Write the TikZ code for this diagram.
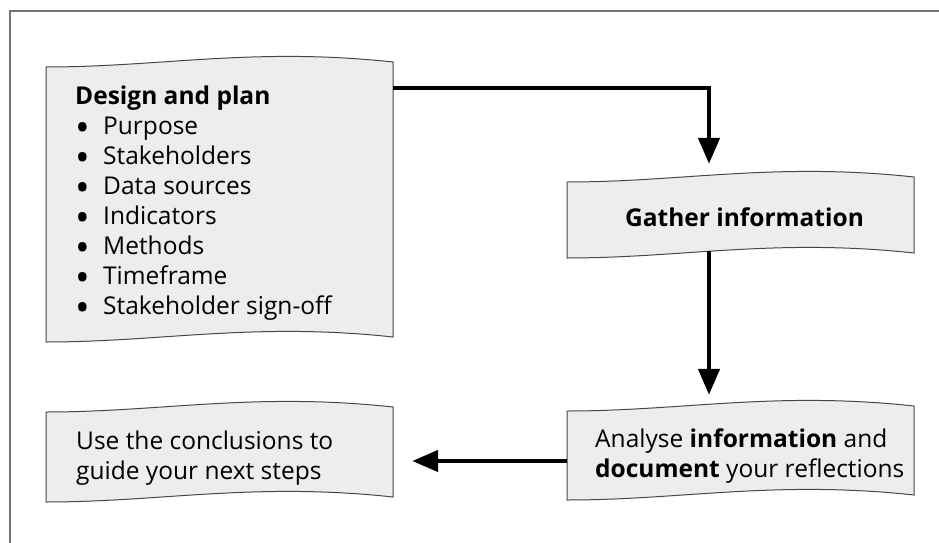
\documentclass[tikz,border=0pt]{standalone}
\usepackage{fontspec}
\setmainfont{Open Sans}
\usetikzlibrary{arrows.meta}
\newcommand\MyWave[3]{% x0, ytop, ybottom
  \path[wavebox] (#1,#2) .. controls ({#1+115},#2) and ({#1+208},{#2-20}) .. ({#1+347},{#2-5})
    -- ({#1+347},{#3-5}) .. controls ({#1+208},{#3-20}) and ({#1+115},#3) .. (#1,#3) -- cycle;}
\newcommand\MyBul{\makebox[28pt][l]{\raisebox{-7.5pt}[0pt][0pt]{\fontsize{39}{30}\selectfont •}}}
\begin{document}
\begin{tikzpicture}[x=1pt,y=-1pt,
  wavebox/.style={draw=black!72,fill=black!7,line width=1pt},
  area/.style={inner sep=0pt,minimum width=347pt},
  txt/.style={inner sep=0pt,font=\fontsize{24.5}{30}\selectfont},
  arr/.style={line width=4.5pt,line join=miter,-{Triangle[length=26pt,width=21pt]}},
  frame/.style={draw=black!55,line width=1.5pt}]
\useasboundingbox (0,0) rectangle (939,543);
\draw[frame] (10,543) -- (10,11) -- (939,11);
% boxes
\MyWave{46}{67}{342}
\MyWave{567}{182}{258}
\MyWave{567}{411}{500}
\MyWave{46}{412}{502}
\node[area,minimum height=275pt] (plan) at (219.5,204.5) {};
\node[area,minimum height=76pt] (gather) at (740.5,220) {};
\node[area,minimum height=89pt] (analyse) at (740.5,455.5) {};
\node[area,minimum height=90pt] (use) at (219.5,457) {};
% texts
\node[txt,anchor=base west] (plantext) at (75,104) {\begin{tabular}[t]{@{}l@{}}
\textbf{Design and plan}\\
\MyBul Purpose\\
\MyBul Stakeholders\\
\MyBul Data sources\\
\MyBul Indicators\\
\MyBul Methods\\
\MyBul Timeframe\\
\MyBul Stakeholder sign-off
\end{tabular}};
\node[txt,anchor=base] (gathertext) at (744.5,226) {\textbf{Gather information}};
\node[txt,anchor=base west] (analysetext) at (595,447) {\begin{tabular}[t]{@{}l@{}}
Analyse \textbf{information} and\\
\textbf{document} your reflections
\end{tabular}};
\node[txt,anchor=base west] (usetext) at (76,449) {\begin{tabular}[t]{@{}l@{}}
Use the conclusions to\\
guide your next steps
\end{tabular}};
% connectors
\draw[arr] ([yshift=-21pt]plan.north east) -| ([xshift=-31.5pt,yshift=18pt]gather.north);
\draw[arr] ([xshift=-31.5pt,yshift=7pt]gather.south) -- ([xshift=-31.5pt,yshift=16pt]analyse.north);
\draw[arr] ([yshift=-5.5pt]analyse.west) -- ([xshift=19pt,yshift=-4pt]use.east);
\end{tikzpicture}
\end{document}
